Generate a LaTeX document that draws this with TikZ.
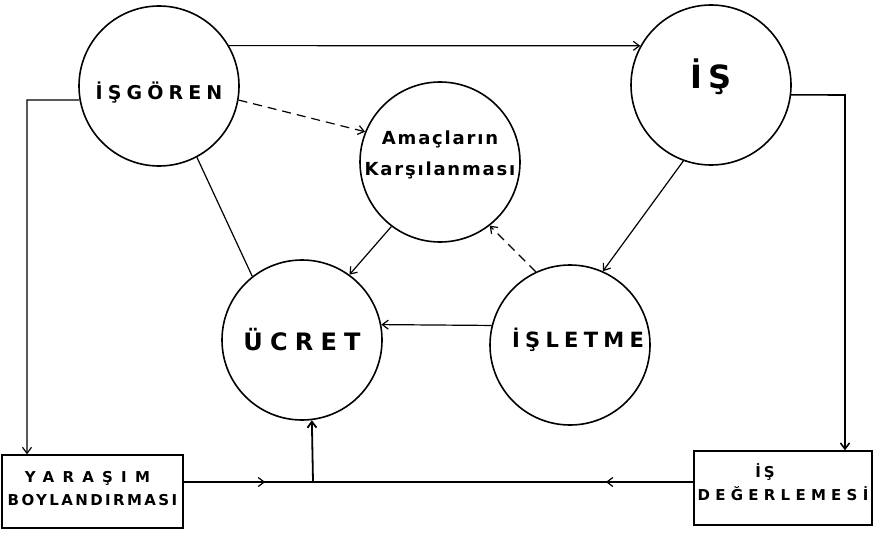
\documentclass[tikz,border=0pt]{standalone}
\usepackage{fontspec}
\usepackage{tikz}
\newfontfamily\hand{DejaVu Sans Bold}
\usetikzlibrary{arrows,positioning,calc,decorations.markings,arrows.meta}

% lettering: size (pt), letter spacing
\newcommand{\hw}[2]{\fontsize{#1}{#1}\hand\addfontfeatures{LetterSpace=#2}}
% shift a line of text without moving its box
\newcommand{\lift}[2]{\raisebox{#1}[\height][\depth]{#2}}

\begin{document}
\begin{tikzpicture}[x=1pt, y=-1pt, >={Straight Barb[length=6pt,width=9pt]}, line width=1.2pt,
    every node/.style={align=center, inner sep=0pt},
    blob/.style={circle, draw, line width=1.6pt, minimum size=160pt},
    tab/.style={rectangle, draw, line width=1.4pt},
    midarrow/.style={decoration={markings, mark=at position #1 with {\arrow{>}}}, postaction={decorate}}]
    \useasboundingbox (0,0) rectangle (874,532);

    \node [blob] (isgoren) at (159,86) {\lift{-7pt}{\hw{19}{27}İŞGÖREN}};
    \node [blob] (is) at (711,85) {\lift{8pt}{\hw{32}{20}İŞ}};
    \node [blob] (amac) at (440,162) {\lift{7pt}{\hw{18}{10}Amaçların}\\[12pt]\lift{7pt}{\hw{18}{10}Karşılanması}};
    \node [blob] (ucret) at (302,340) {\hw{24}{30}ÜCRET};
    \node [blob] (isletme) at (570,345) {\hspace*{16pt}\lift{5pt}{\hw{21}{25}İŞLETME}};
    \node [tab, minimum width=181pt, minimum height=73pt] (yarasim) at (92.5,491.5)
        {\lift{3pt}{\hw{15}{55}YARAŞIM}\hspace*{10pt}\\[8pt]\lift{3pt}{\hw{15}{16}BOYLANDIRMASI}};
    \node [tab, minimum width=178pt, minimum height=74pt] (deger) at (783,488)
        {\lift{6pt}{\hw{15}{20}İŞ}\hspace*{36pt}\\[5pt]\lift{6pt}{\hw{15}{35}DEĞERLEMESİ}};

    \coordinate (lturn) at (27,100);
    \coordinate (rturn) at (845,95);
    \coordinate (join) at (313,482);

    \draw [->] (isgoren.30) -- (is.151);
    \draw [->] (isgoren.190) -- (lturn) -- (lturn |- yarasim.north);
    \draw [->, line width=1.6pt] (is.-7) -- (rturn) -- (rturn |- deger.north);
    \draw [->, dashed, dash pattern=on 9pt off 6pt] (isgoren.-10) -- (amac.158);
    \draw (isgoren.-62) -- (ucret.128);
    \draw [->] (amac.-127) -- (ucret.54);
    \draw [->] (is.-110) -- (isletme.66);
    \draw [->, dashed, dash pattern=on 9pt off 6pt] (isletme.115) -- (amac.-52);
    \draw [->] (isletme.166) -- (ucret.11);
    \draw [midarrow=0.63] (yarasim.east |- join) -- (join);
    \draw [midarrow=0.23] (deger.west |- join) -- (join);
    \draw [->, line width=1.8pt] (join) -- (ucret.-83);
\end{tikzpicture}
\end{document}
